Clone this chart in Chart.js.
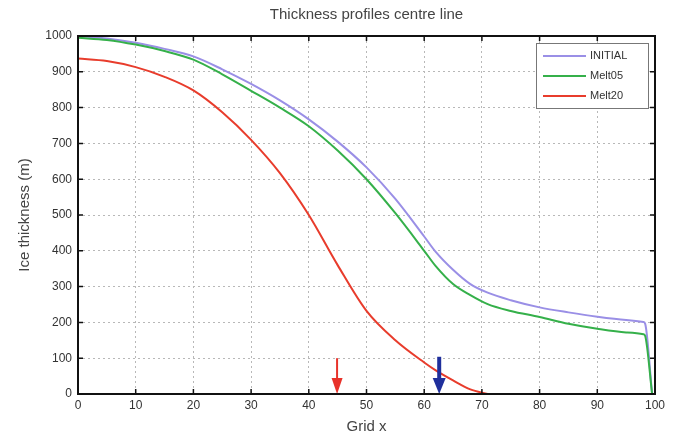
<!DOCTYPE html>
<html>
<head>
<meta charset="utf-8">
<script src="https://cdn.jsdelivr.net/npm/chart.js@4.4.1/dist/chart.umd.min.js"></script>
<style>
  html, body { margin: 0; padding: 0; background: #fff; }
  #wrap { width: 676px; height: 439px; }
</style>
</head>
<body>
<div id="wrap"><canvas id="thicknessChart" width="676" height="439"></canvas></div>
<script>
// grid positions along the centre line
const gridX = [0, 5, 10, 15, 20, 25, 30, 35, 40, 45, 50, 55, 60, 62, 65, 68, 71, 75, 80, 85, 90, 95, 98, 98.3, 99.5];

// ice thickness (m) for each run
const initial = [1000, 993, 981, 964, 943, 907, 866, 820, 767, 705, 633, 545, 440, 397, 347, 307, 283, 262, 242, 228, 216, 207, 201, 196, 0];
const melt05  = [995, 989, 976, 958, 934, 893, 847, 800, 748, 680, 600, 505, 400, 357, 307, 276, 251, 232, 215, 196, 182, 172, 167, 162, 0];
const melt20  = [937, 930, 913, 886, 848, 787, 710, 617, 500, 360, 232, 150, 88, 66, 38, 13, 0, null, null, null, null, null, null, null, null];

const seriesNames = ["INITIAL", "Melt05", "Melt20"];
const seriesColors = ["#9a8fe6", "#35b04a", "#e83c2c"];

// arrows marking the ice front
const arrowX = [44.9, 62.6];
const arrowTop = [100, 104];
const arrowColors = ["#e8322a", "#1f2f9c"];

const toPoints = (ys) => gridX.map((x, i) => ({ x: x, y: ys[i] }));

const extras = {
  id: "extras",
  afterDraw(chart) {
    const ctx = chart.ctx;
    const { left, right, top, bottom } = chart.chartArea;
    const xs = chart.scales.x, ys = chart.scales.y;
    ctx.save();

    // arrows
    arrowX.forEach((ax, i) => {
      const px = xs.getPixelForValue(ax);
      const pTop = ys.getPixelForValue(arrowTop[i]);
      const headH = 16, headW = i === 0 ? 11 : 13;
      ctx.strokeStyle = arrowColors[i];
      ctx.fillStyle = arrowColors[i];
      ctx.lineWidth = i === 0 ? 2 : 4;
      ctx.beginPath();
      ctx.moveTo(px, pTop);
      ctx.lineTo(px, bottom - headH + 2);
      ctx.stroke();
      ctx.beginPath();
      ctx.moveTo(px - headW / 2, bottom - headH);
      ctx.lineTo(px + headW / 2, bottom - headH);
      ctx.lineTo(px, bottom);
      ctx.closePath();
      ctx.fill();
    });

    // axis box and inward ticks
    ctx.strokeStyle = "#111";
    ctx.lineWidth = 2;
    ctx.strokeRect(left, top, right - left, bottom - top);
    ctx.lineWidth = 1.5;
    ctx.beginPath();
    xs.ticks.forEach(t => {
      const p = xs.getPixelForValue(t.value);
      ctx.moveTo(p, bottom); ctx.lineTo(p, bottom - 5);
      ctx.moveTo(p, top); ctx.lineTo(p, top + 5);
    });
    ys.ticks.forEach(t => {
      const p = ys.getPixelForValue(t.value);
      ctx.moveTo(left, p); ctx.lineTo(left + 5, p);
      ctx.moveTo(right, p); ctx.lineTo(right - 5, p);
    });
    ctx.stroke();

    // legend box
    const lx = 536, ly = 43, lw = 112, lh = 65;
    ctx.fillStyle = "#fff";
    ctx.fillRect(lx, ly, lw, lh);
    ctx.strokeStyle = "#777";
    ctx.lineWidth = 1;
    ctx.strokeRect(lx + 0.5, ly + 0.5, lw, lh);
    ctx.font = "11px 'Liberation Sans', Arial, sans-serif";
    ctx.textBaseline = "middle";
    ctx.textAlign = "left";
    seriesNames.forEach((name, i) => {
      const ry = ly + 13 + i * 20;
      ctx.strokeStyle = seriesColors[i];
      ctx.lineWidth = 2;
      ctx.beginPath();
      ctx.moveTo(lx + 7, ry); ctx.lineTo(lx + 50, ry);
      ctx.stroke();
      ctx.fillStyle = "#333";
      ctx.fillText(name, lx + 54, ry);
    });

    // title and axis labels
    ctx.fillStyle = "#444";
    ctx.textAlign = "center";
    ctx.font = "15px 'Liberation Sans', Arial, sans-serif";
    ctx.fillText("Thickness profiles centre line", (left + right) / 2, 15);
    ctx.fillText("Grid x", (left + right) / 2, 427);
    ctx.translate(25, (top + bottom) / 2);
    ctx.rotate(-Math.PI / 2);
    ctx.fillText("Ice thickness (m)", 0, 0);
    ctx.restore();
  }
};

new Chart(document.getElementById("thicknessChart"), {
  type: "line",
  data: {
    datasets: [
      { label: seriesNames[0], data: toPoints(initial), borderColor: seriesColors[0], order: 2 },
      { label: seriesNames[1], data: toPoints(melt05), borderColor: seriesColors[1], order: 1 },
      { label: seriesNames[2], data: toPoints(melt20), borderColor: seriesColors[2], order: 0 }
    ]
  },
  options: {
    responsive: false,
    animation: false,
    layout: { padding: { left: 0, right: 21, top: 36, bottom: 0 } },
    elements: {
      line: { borderWidth: 2, cubicInterpolationMode: "monotone", fill: false },
      point: { radius: 0 }
    },
    plugins: {
      legend: { display: false },
      title: { display: false },
      tooltip: { enabled: false }
    },
    scales: {
      x: {
        type: "linear",
        min: 0,
        max: 100,
        ticks: { stepSize: 10, color: "#333", font: { size: 12, family: "'Liberation Sans', Arial, sans-serif" }, padding: 4 },
        grid: { color: "#b8b8b8", drawTicks: false, lineWidth: 1 },
        border: { display: false, dash: [2, 3] },
        afterFit: (s) => { s.height = 45; }
      },
      y: {
        min: 0,
        max: 1000,
        ticks: {
          stepSize: 100, color: "#333", padding: 6,
          font: { size: 12, family: "'Liberation Sans', Arial, sans-serif" },
          callback: (v) => String(v)
        },
        grid: { color: "#b8b8b8", drawTicks: false, lineWidth: 1 },
        border: { display: false, dash: [2, 3] },
        afterFit: (s) => { s.width = 78; }
      }
    }
  },
  plugins: [extras]
});
</script>
</body>
</html>
